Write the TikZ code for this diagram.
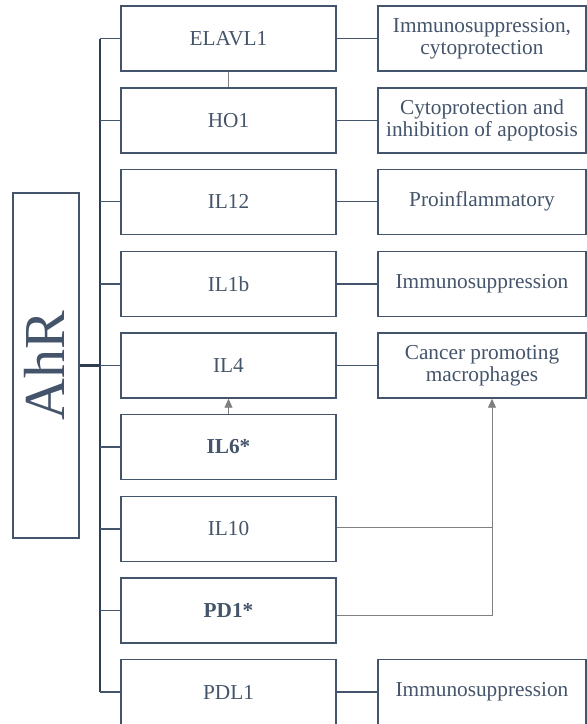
\documentclass[tikz,border=0pt]{standalone}
\usepackage{fontspec}
\setmainfont{Liberation Serif}
\usetikzlibrary{arrows.meta}
\definecolor{boxc}{HTML}{44546A}
\definecolor{trunkc}{HTML}{2F3D52}
\definecolor{grayc}{HTML}{808080}
\tikzset{
  lbox/.style={draw=boxc, line width=1.4pt, minimum width=215pt, minimum height=65pt, inner sep=0pt,
    text=boxc, font=\fontsize{21.3}{22.5}\selectfont, align=center},
  rbox/.style={draw=boxc, line width=1.4pt, minimum width=208pt, minimum height=65pt, inner sep=0pt,
    text=boxc, font=\fontsize{21.3}{22.5}\selectfont, align=center},
  ahrbox/.style={draw=boxc, line width=1.4pt, minimum width=66pt, minimum height=345pt, inner sep=0pt},
  link/.style={draw=boxc, line width=1.4pt},
  trunk/.style={draw=trunkc, line width=2pt},
  glink/.style={draw=grayc, line width=0.9pt},
  garrow/.style={glink, -{Triangle[length=9pt,width=8pt]}, color=grayc}
}
\begin{document}
\begin{tikzpicture}[x=1pt,y=-1pt]
\useasboundingbox (0,0) rectangle (587,724);
\clip (0,0) rectangle (587,724);
% AhR
\node[ahrbox] (ahr) at (46,365.5) {};
\node[text=boxc, font=\fontsize{58}{60}\selectfont, rotate=90] (ahrtxt) at (44,365.5) {AhR};
% left boxes
\node[lbox] (elavl) at (228.5,38.5) {ELAVL1};
\node[lbox] (ho1) at (228.5,120.5) {HO1};
\node[lbox] (il12) at (228.5,201.7) {IL12};
\node[lbox] (il1b) at (228.5,284) {IL1b};
\node[lbox] (il4) at (228.5,365.5) {IL4};
\node[lbox] (il6) at (228.5,447) {\textbf{IL6*}};
\node[lbox] (il10) at (228.5,529) {IL10};
\node[lbox] (pd1) at (228.5,610.5) {\textbf{PD1*}};
\node[lbox] (pdl1) at (228.5,692) {PDL1};
% right boxes
\node[rbox] (r1) at (482,38.5) {Immunosuppression,\\cytoprotection};
\node[rbox] (r2) at (482,120.5) {Cytoprotection and\\inhibition of apoptosis};
\node[rbox] (r3) at (482,201.7) {Proinflammatory};
\node[rbox] (r4) at (482,284) {Immunosuppression};
\node[rbox] (r5) at (482,365.5) {Cancer promoting\\macrophages};
\node[rbox] (r9) at (482,692) {Immunosuppression};
% trunk
\coordinate (ttop) at (100,38.5);
\coordinate (tbot) at (100,692);
\draw[trunk] (ttop) -- (tbot);
\draw[draw=trunkc, line width=3pt] (ahr.east) -- (ahr.east -| ttop);
\foreach \n in {elavl,ho1,il12,il1b,il4,il6,il10,pd1,pdl1}{
  \draw[link] (\n.west -| ttop) -- (\n.west);
}
% left to right links
\draw[link] (elavl.east) -- (r1.west);
\draw[link] (ho1.east) -- (r2.west);
\draw[link] (il12.east) -- (r3.west);
\draw[link] (il1b.east) -- (r4.west);
\draw[link] (il4.east) -- (r5.west);
\draw[link] (pdl1.east) -- (r9.west);
% gray links
\draw[glink] (elavl.south) -- (ho1.north);
\draw[garrow] (il6.north) -- (il4.south);
\coordinate (j1) at (492,527);
\coordinate (j2) at (492,615);
\draw[glink] ([yshift=2pt]il10.east) -- (j1);
\draw[garrow] ([yshift=-4.5pt]pd1.east) -- (j2) -- (r5.south -| j2);
\end{tikzpicture}
\end{document}
